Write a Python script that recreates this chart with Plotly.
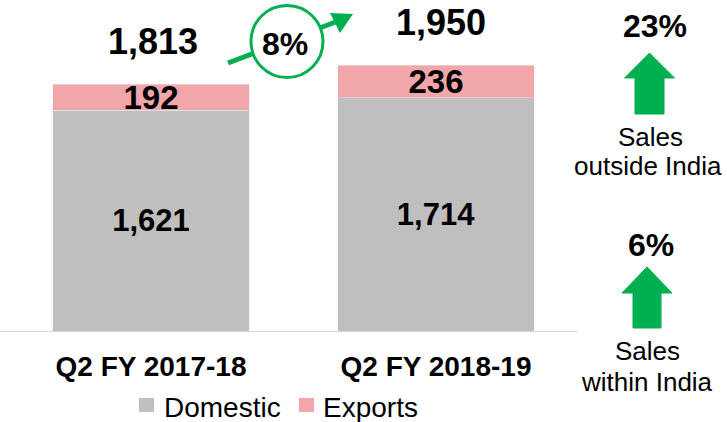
import plotly.graph_objects as go

categories = ["Q2 FY 2017-18", "Q2 FY 2018-19"]
domestic = [1621, 1714]
exports = [192, 236]
totals = [1813, 1950]
growth_total = "8%"
growth_outside = "23%"
growth_within = "6%"

OFF = 0  # page body margin removed via post_script
W, H = 727 - OFF, 422 - OFF
L, R, T, B = 0, 149, 20 - OFF, 91
PW, PH = W - L - R, H - T - B
FONT = "Liberation Sans, Arial, sans-serif"
GREEN = "#00B050"
GRAY = "#BFBFBF"
PINK = "#F1A6AA"

def px(xp):
    return (xp - OFF - L) / PW

def py(yp):
    return (H - B - (yp - OFF)) / PH

fig = go.Figure()
fig.add_trace(go.Bar(
    x=[0, 1], y=domestic, name="Domestic", marker_color=GRAY,
    text=[f"<b>{v:,}</b>" for v in domestic], textposition="inside",
    insidetextanchor="middle", constraintext="none",
    textfont=dict(size=31, color="black", family=FONT), width=0.69,
))
fig.add_trace(go.Bar(
    x=[0, 1], y=exports, name="Exports", marker_color=PINK,
    text=[f"<b>{v:,}</b>" for v in exports], textposition="inside",
    insidetextanchor="middle", constraintext="none",
    textfont=dict(size=33, color="black", family=FONT), width=0.69,
))

annotations = []
for i, t in enumerate(totals):
    annotations.append(dict(x=i, y=t, xref="x", yref="y", text=f"<b>{t:,}</b>",
                            showarrow=False, yanchor="middle", xanchor="center",
                            yshift=43, xshift=[2, 5][i],
                            font=dict(size=36, color="black", family=FONT)))

annotations.append(dict(x=px(285), y=py(44), xref="paper", yref="paper",
                        text=f"<b>{growth_total}</b>", showarrow=False,
                        xanchor="center", yanchor="middle",
                        font=dict(size=32, color="black", family=FONT)))

side = [
    (655, 26, f"<b>{growth_outside}</b>", 32),
    (650, 137, "Sales", 26),
    (648, 166, "outside India", 26),
    (651, 245, f"<b>{growth_within}</b>", 32),
    (647, 351, "Sales", 26),
    (647, 382, "within India", 26),
]
for xp, yp, txt, sz in side:
    annotations.append(dict(x=px(xp), y=py(yp), xref="paper", yref="paper",
                            text=txt, showarrow=False, xanchor="center", yanchor="middle",
                            font=dict(size=sz, color="black", family=FONT)))

shapes = []
legend_items = [("Domestic", GRAY, 139, 162), ("Exports", PINK, 299, 321)]
for name, col, sx, tx in legend_items:
    shapes.append(dict(type="rect", xref="paper", yref="paper",
                       x0=px(sx), x1=px(sx + 15), y0=py(412), y1=py(398),
                       fillcolor=col, line=dict(width=0)))
    annotations.append(dict(x=px(tx), y=py(407), xref="paper", yref="paper",
                            text=name, showarrow=False, xanchor="left", yanchor="middle",
                            font=dict(size=28, color="black", family=FONT)))

shapes.append(dict(type="line", xref="paper", yref="paper",
                   x0=px(228), y0=py(63), x1=px(338), y1=py(21),
                   line=dict(color=GREEN, width=5)))
cx, cy, r = 287, 41.5, 36
shapes.append(dict(type="circle", xref="paper", yref="paper",
                   x0=px(cx - r), x1=px(cx + r), y0=py(cy + r), y1=py(cy - r),
                   fillcolor="white", line=dict(color=GREEN, width=3)))
tip = (353, 14)
base_l = (330, 13)
base_r = (340, 33)
shapes.append(dict(type="path", xref="paper", yref="paper",
                   path=f"M{px(tip[0])},{py(tip[1])} L{px(base_l[0])},{py(base_l[1])} L{px(base_r[0])},{py(base_r[1])} Z",
                   fillcolor=GREEN, line=dict(width=0)))

def up_arrow(cxp, tipy, heady, boty, headhalf, shafthalf):
    pts = [(cxp, tipy), (cxp + headhalf, heady), (cxp + shafthalf, heady),
           (cxp + shafthalf, boty), (cxp - shafthalf, boty), (cxp - shafthalf, heady),
           (cxp - headhalf, heady)]
    p = "M" + " L".join(f"{px(a)},{py(b)}" for a, b in pts) + " Z"
    return dict(type="path", xref="paper", yref="paper", path=p,
                fillcolor=GREEN, line=dict(color=GREEN, width=1))

shapes.append(up_arrow(649.5, 53, 78, 114, 25, 14.5))
shapes.append(up_arrow(647, 267, 293, 328, 25, 14))

unit = 285.0
c0 = 151 - OFF - L
xr = [-c0 / unit, (PW - c0) / unit]

fig.update_layout(
    width=W, height=H,
    margin=dict(l=L, r=R, t=T, b=B),
    barmode="stack",
    plot_bgcolor="white", paper_bgcolor="white",
    font=dict(family=FONT, color="black"),
    showlegend=False,
    xaxis=dict(range=xr, tickmode="array", tickvals=[0, 1],
               ticktext=[f"<b>{c}</b>" for c in categories],
               tickfont=dict(size=28, color="black", family=FONT),
               ticklabelstandoff=10,
               showline=True, linecolor="#D9D9D9", linewidth=1, ticks="",
               showgrid=False, zeroline=False),
    yaxis=dict(range=[0, PH / 0.1362], visible=False, showgrid=False, zeroline=False),
    annotations=annotations,
    shapes=shapes,
)

fig.write_html("out.html", config={"displayModeBar": False},
               post_script="document.body.style.margin='0';")
